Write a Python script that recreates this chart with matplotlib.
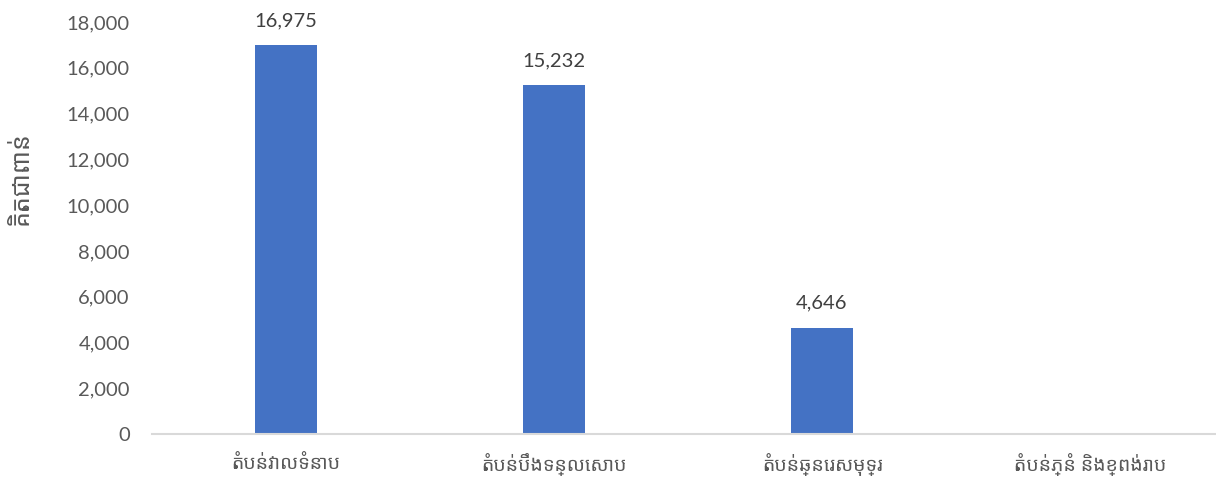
import matplotlib
matplotlib.use("Agg")
import matplotlib.pyplot as plt
from matplotlib.ticker import FuncFormatter, MultipleLocator

categories = ["តំបន់វាលទំនាប", "តំបន់បឹងទន្លេសាប", "តំបន់ឆ្នេរសមុទ្រ", "តំបន់ភ្នំ និងខ្ពង់រាប"]
values = [16975, 15232, 4646, 0]
labels = ["16,975", "15,232", "4,646", ""]
ylabel = "គិតជាពាន់"

khmer = ["Noto Sans Khmer", "Khmer OS", "Khmer OS System", "Leelawadee UI", "Lato", "DejaVu Sans"]
plt.rcParams['font.family'] = ["Lato", "DejaVu Sans"]

fig = plt.figure(figsize=(12.16, 4.79), dpi=100)
ax = fig.add_axes([152/1216, 1-434/479, 1072/1216, 412/479])
x = range(len(categories))
ax.bar(x, values, width=0.235, color="#4472C4", zorder=2)
for xi, v, lab in zip(x, values, labels):
    if lab:
        ax.text(xi, v + 700, lab, ha="center", va="bottom", fontsize=14.5, color="#404040")
ax.set_xlim(-0.5, len(categories) - 0.5)
ax.set_ylim(0, 18000)
ax.yaxis.set_major_locator(MultipleLocator(2000))
ax.yaxis.set_major_formatter(FuncFormatter(lambda v, p: f"{int(v):,}"))
ax.set_xticks(list(x))
ax.set_xticklabels(categories, family=khmer, fontsize=14, color="#595959")
ax.tick_params(axis="y", labelsize=14.5, labelcolor="#595959", length=0, pad=16)
ax.tick_params(axis="x", length=0, pad=14)
for s in ["top", "right", "left"]:
    ax.spines[s].set_visible(False)
ax.spines["bottom"].set_color("#D9D9D9")
ax.spines["bottom"].set_linewidth(1.5)
ax.set_ylabel(ylabel, family=khmer, fontsize=18, color="#595959")
ax.yaxis.set_label_coords(-118/1072, 0.62)
fig.savefig("out.png", dpi=100)
